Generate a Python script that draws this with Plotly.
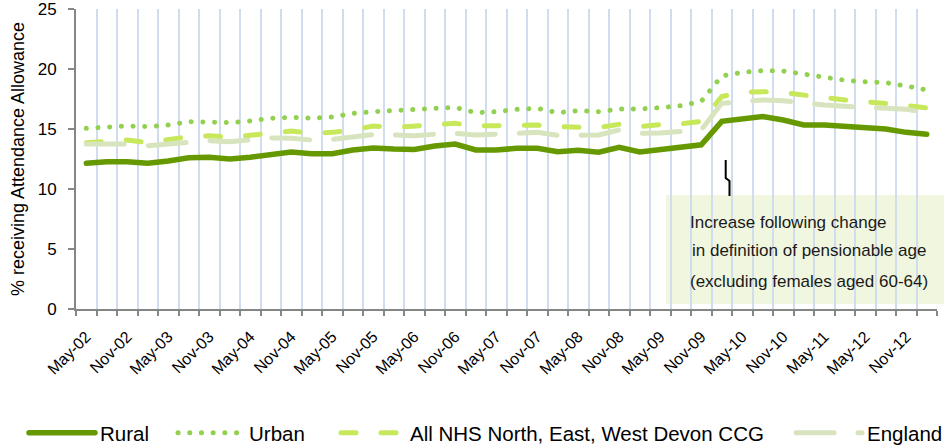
import plotly.graph_objects as go

# ---------------- data ----------------
CATEGORIES = [
    "May-02", "Aug-02", "Nov-02", "Feb-03", "May-03", "Aug-03", "Nov-03", "Feb-04",
    "May-04", "Aug-04", "Nov-04", "Feb-05", "May-05", "Aug-05", "Nov-05", "Feb-06",
    "May-06", "Aug-06", "Nov-06", "Feb-07", "May-07", "Aug-07", "Nov-07", "Feb-08",
    "May-08", "Aug-08", "Nov-08", "Feb-09", "May-09", "Aug-09", "Nov-09", "Feb-10",
    "May-10", "Aug-10", "Nov-10", "Feb-11", "May-11", "Nov-11", "May-12", "Aug-12",
    "Nov-12", "Feb-13",
]
# labelled categories on the axis (every second one)
TICK_LABELS = [
    "May-02", "Nov-02", "May-03", "Nov-03", "May-04", "Nov-04", "May-05", "Nov-05",
    "May-06", "Nov-06", "May-07", "Nov-07", "May-08", "Nov-08", "May-09", "Nov-09",
    "May-10", "Nov-10", "May-11", "May-12", "Nov-12",
]
Y_TICKS = [0, 5, 10, 15, 20, 25]

RURAL = [12.14, 12.28, 12.28, 12.14, 12.33, 12.60, 12.64, 12.50, 12.64, 12.89, 13.08,
         12.94, 12.94, 13.25, 13.42, 13.33, 13.30, 13.58, 13.75, 13.25, 13.25, 13.39,
         13.39, 13.11, 13.22, 13.06, 13.47, 13.08, 13.30, 13.55, 13.68, 15.64, 15.80,
         16.03, 15.75, 15.33, 15.33, 15.19, 15.06, 15.00, 14.72, 14.56]
URBAN = [15.06, 15.14, 15.25, 15.20, 15.33, 15.61, 15.60, 15.53, 15.67, 15.89, 15.97,
         15.90, 16.00, 16.30, 16.44, 16.50, 16.58, 16.72, 16.80, 16.36, 16.44, 16.64,
         16.72, 16.36, 16.53, 16.44, 16.67, 16.67, 16.78, 16.94, 17.30, 19.42, 19.72,
         19.86, 19.83, 19.58, 19.33, 19.06, 18.94, 18.86, 18.58, 18.25]
CCG = [13.86, 13.95, 14.08, 13.86, 14.14, 14.36, 14.44, 14.31, 14.47, 14.64, 14.83,
       14.64, 14.72, 14.92, 15.25, 15.14, 15.22, 15.33, 15.47, 15.25, 15.25, 15.28,
       15.33, 15.19, 15.19, 15.11, 15.39, 15.19, 15.36, 15.42, 15.64, 17.70, 18.06,
       18.11, 18.03, 17.80, 17.61, 17.42, 17.28, 17.17, 16.97, 16.75]
ENGLAND = [13.75, 13.75, 13.75, 13.61, 13.75, 13.89, 14.03, 13.94, 14.08, 14.25, 14.22,
           14.08, 14.14, 14.36, 14.53, 14.50, 14.44, 14.56, 14.64, 14.50, 14.58, 14.64,
           14.72, 14.47, 14.50, 14.50, 14.92, 14.64, 14.66, 14.81, 14.92, 17.14, 17.33,
           17.42, 17.36, 17.14, 17.00, 16.89, 16.83, 16.78, 16.64, 16.36]

SERIES_NAMES = ["Rural", "Urban", "All NHS North, East, West Devon CCG", "England"]
Y_TITLE = "% receiving Attendance Allowance"
NOTE_LINES = ["Increase following change",
              " in definition of pensionable age",
              "(excluding females aged 60-64)"]

FONT = "Liberation Sans, Arial, sans-serif"

# ---------------- figure ----------------
fig = go.Figure()

styles = [
    dict(color="#669900", width=5.5, dash="solid"),
    dict(color="#92D050", width=5, dash="0.1px,11.6px"),
    dict(color="#C6E85A", width=5, dash="15px,25px"),
    dict(color="#D7E4BD", width=5, dash="38px,24px"),
]
values = [RURAL, URBAN, CCG, ENGLAND]
legend_ids = ["legend", "legend2", "legend3", "legend4"]

for name, vals, st, lg in zip(SERIES_NAMES, values, styles, legend_ids):
    fig.add_trace(go.Scatter(
        x=CATEGORIES, y=vals, name=name, mode="lines",
        line=dict(color=st["color"], width=st["width"], dash=st["dash"]),
        legend=lg, hoverinfo="skip",
    ))

ticktext = [c if c in TICK_LABELS and i % 2 == 0 else "" for i, c in enumerate(CATEGORIES)]

PL, PR, PT, PB = 76, 7, 9, 137
W, H = 944, 446
pw = W - PL - PR
ph = H - PT - PB


def px(x):
    return (x - PL) / pw


def py(y):
    return (H - PB - y) / ph


legend_common = dict(
    orientation="h", yref="paper", y=py(433), yanchor="middle", xanchor="left",
    font=dict(family=FONT, size=20.5, color="#000000"),
    bgcolor="rgba(0,0,0,0)", borderwidth=0, tracegroupgap=0,
)

fig.update_layout(
    width=W, height=H,
    margin=dict(l=PL, r=PR, t=PT, b=PB, autoexpand=False),
    paper_bgcolor="white", plot_bgcolor="white",
    font=dict(family=FONT, color="#000000"),
    showlegend=True,
    legend=dict(x=px(24), itemwidth=66, **legend_common),
    legend2=dict(x=px(173), itemwidth=66, **legend_common),
    legend3=dict(x=px(336), itemwidth=64, **legend_common),
    legend4=dict(x=px(791), itemwidth=66, **legend_common),
    xaxis=dict(
        type="category", categoryorder="array", categoryarray=CATEGORIES,
        range=[-0.5, len(CATEGORIES) - 0.5],
        tickmode="array", tickvals=CATEGORIES, ticktext=ticktext,
        tickson="boundaries", ticks="outside", ticklen=5, tickwidth=1.5,
        tickcolor="#868686",
        showgrid=True, gridcolor="#CFDDEE", gridwidth=2,
        showline=True, linecolor="#868686", linewidth=2,
        tickangle=-45, tickfont=dict(family=FONT, size=16, color="#000000"),
        ticklabelstandoff=10,
        zeroline=False, fixedrange=True,
    ),
    yaxis=dict(
        range=[0, 25], tickmode="array", tickvals=Y_TICKS,
        ticktext=[str(v) for v in Y_TICKS],
        ticks="outside", ticklen=6, tickwidth=1.5, tickcolor="#868686",
        ticklabeloverflow="allow", ticklabelstandoff=8,
        showgrid=False, zeroline=False,
        showline=True, linecolor="#868686", linewidth=2,
        tickfont=dict(family=FONT, size=17, color="#000000"),
        title=dict(text=Y_TITLE, font=dict(family=FONT, size=18, color="#000000"),
                   standoff=8),
        fixedrange=True,
    ),
)

# note box (drawn below gridlines) and connector
fig.add_shape(type="rect", xref="paper", yref="paper",
              x0=px(666), x1=px(946), y0=py(304), y1=py(195),
              fillcolor="#F1F7DF", line=dict(width=0), layer="below")
fig.add_shape(type="path", xref="paper", yref="paper",
              path=f"M{px(725.7)},{py(160)} L{px(725.7)},{py(178)} "
                   f"L{px(729.5)},{py(181)} L{px(729.5)},{py(196)}",
              line=dict(color="#000000", width=2), layer="above")

note_pos = [(688, 222), (690, 250), (688, 281)]
for txt, (nx, ny) in zip(NOTE_LINES, note_pos):
    fig.add_annotation(text=txt.strip(),
                       xref="paper", yref="paper", x=px(nx), y=py(ny),
                       xanchor="left", yanchor="middle", showarrow=False,
                       font=dict(family=FONT, size=17, color="#1A1A1A"))

post = """
(function(){
  document.body.style.margin = '0';
  document.body.style.padding = '0';
  document.body.style.overflow = 'hidden';
  var gd = document.getElementById('{plot_id}');
  function fix(){
    gd.querySelectorAll('.scatterlayer path.js-line, .legendlines path').forEach(function(p){
      p.style.strokeLinecap = 'round';
    });
  }
  fix();
  setTimeout(fix, 0);
  setTimeout(fix, 200);
  if (gd.on) { gd.on('plotly_afterplot', fix); }
})();
"""

fig.write_html("out.html", post_script=post, config={"displayModeBar": False})
